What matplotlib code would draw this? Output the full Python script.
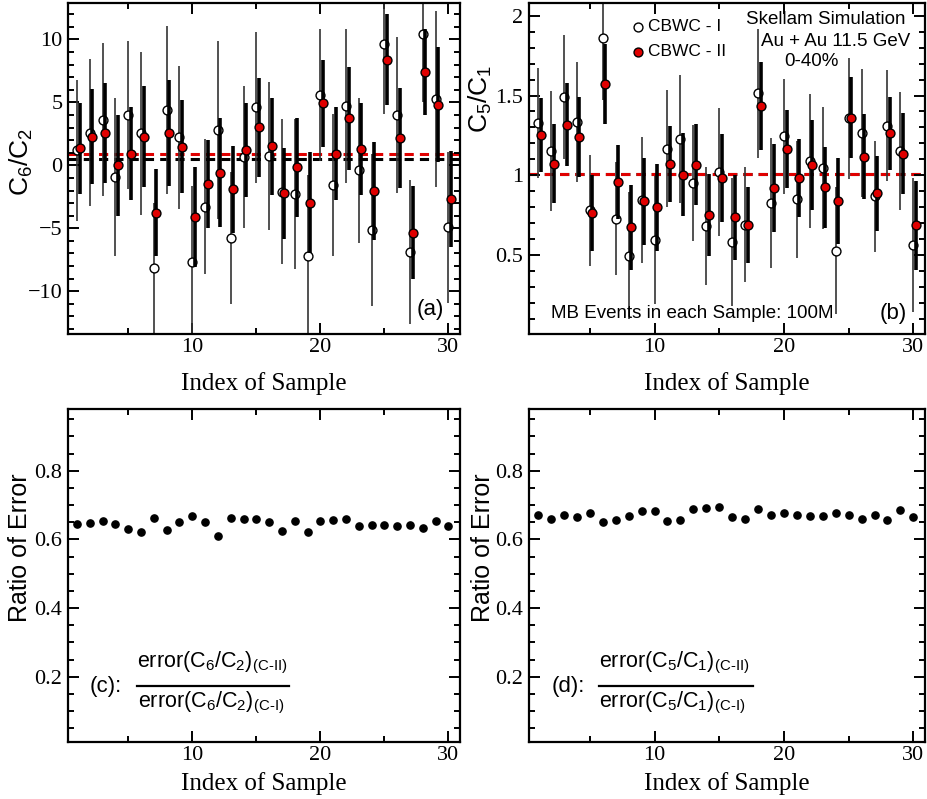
import numpy as np
import matplotlib
matplotlib.use("Agg")
from matplotlib import pyplot as plt
from matplotlib.ticker import MultipleLocator, FuncFormatter

plt.rcParams['font.family'] = 'Liberation Serif'
plt.rcParams['mathtext.fontset'] = 'custom'
plt.rcParams['mathtext.rm'] = 'Liberation Sans'
plt.rcParams['mathtext.it'] = 'Liberation Sans:italic'
plt.rcParams['mathtext.bf'] = 'Liberation Sans:bold'

sample = np.arange(1, 31)

# C6/C2 : CBWC-I value and error, CBWC-II value
c62_cbwc1 = [1.20, 2.60, 3.63, -0.92, 4.02, 2.56, -8.19, 4.40, 2.22, -7.66,
             -3.28, 2.80, -5.80, 0.70, 4.61, 0.76, -2.09, -2.25, -7.21, 5.59,
             -1.55, 4.72, -0.38, -5.14, 9.66, 4.00, -6.87, 10.45, 5.27, -4.90]
c62_err1 = [5.60, 5.85, 6.07, 6.27, 5.87, 6.47, 5.20, 6.70, 5.70, 6.00,
            5.38, 7.07, 5.24, 5.64, 6.00, 5.88, 5.75, 5.97, 6.45, 5.28,
            5.66, 6.15, 5.75, 6.06, 5.58, 6.20, 5.73, 5.40, 7.00, 6.00]
c62_cbwc2 = [1.34, 2.29, 2.56, -0.01, 0.94, 2.29, -3.76, 2.56, 1.47, -4.10,
             -1.45, -0.57, -1.90, 1.24, 3.01, 1.50, -2.22, -0.17, -2.96, 4.93,
             0.94, 3.73, 1.31, -2.03, 8.41, 2.17, -5.35, 7.45, 4.82, -2.69]
# ratio of errors error(C-II)/error(C-I) for C6/C2
c62_ratio = [0.646, 0.648, 0.654, 0.646, 0.630, 0.621, 0.662, 0.628, 0.650, 0.668,
             0.650, 0.610, 0.663, 0.659, 0.661, 0.652, 0.626, 0.654, 0.621, 0.655,
             0.658, 0.661, 0.639, 0.641, 0.641, 0.639, 0.641, 0.632, 0.653, 0.639]

# C5/C1 : CBWC-I value and error, CBWC-II value
c51_cbwc1 = [1.325, 1.150, 1.490, 1.333, 0.780, 1.860, 0.727, 0.497, 0.843, 0.595,
             1.167, 1.228, 0.952, 0.683, 1.020, 0.580, 0.690, 1.513, 0.826, 1.245,
             0.851, 1.088, 1.046, 0.528, 1.356, 1.266, 0.868, 1.312, 1.150, 0.563]
c51_err1 = [0.345, 0.377, 0.390, 0.377, 0.350, 0.385, 0.354, 0.398, 0.395, 0.400,
            0.366, 0.400, 0.366, 0.370, 0.400, 0.400, 0.360, 0.404, 0.410, 0.360,
            0.367, 0.420, 0.380, 0.400, 0.378, 0.400, 0.350, 0.350, 0.370, 0.420]
c51_cbwc2 = [1.255, 1.073, 1.318, 1.239, 0.763, 1.570, 0.956, 0.673, 0.836, 0.800,
             1.073, 1.004, 1.067, 0.752, 0.983, 0.736, 0.686, 1.434, 0.920, 1.167,
             0.983, 1.063, 0.926, 0.840, 1.360, 1.117, 0.887, 1.262, 1.136, 0.686]
c51_ratio = [0.672, 0.660, 0.672, 0.664, 0.676, 0.650, 0.656, 0.668, 0.684, 0.684,
             0.653, 0.656, 0.690, 0.691, 0.694, 0.666, 0.661, 0.689, 0.672, 0.677,
             0.672, 0.669, 0.669, 0.678, 0.672, 0.661, 0.672, 0.657, 0.687, 0.666]

# reference lines (CBWC-I mean, CBWC-II mean)
c62_lines = [0.5, 0.9]
c51_lines = [1.01, 1.01]

W, H = 927, 799
fig = plt.figure(figsize=(W / 100, H / 100), dpi=100)


def px_axes(x0, y0, x1, y1):
    return fig.add_axes([x0 / W, 1 - y1 / H, (x1 - x0) / W, (y1 - y0) / H])


def fmt(v, pos):
    s = '%g' % round(v, 3)
    return s.replace('-', '\u2212')


def style(ax, ymaj, ymin, ylim, xly):
    ax.set_xlim(0.3, 30.9)
    ax.set_ylim(*ylim)
    ax.xaxis.set_major_locator(MultipleLocator(10))
    ax.xaxis.set_minor_locator(MultipleLocator(5))
    ax.yaxis.set_major_locator(MultipleLocator(ymaj))
    ax.yaxis.set_minor_locator(MultipleLocator(ymin))
    ax.yaxis.set_major_formatter(FuncFormatter(fmt))
    ax.tick_params(which='both', direction='in', top=True, right=True,
                   width=1.4, labelsize=16)
    ax.tick_params(which='major', length=8)
    ax.tick_params(which='minor', length=4.5)
    ax.tick_params(axis='x', pad=3)
    ax.tick_params(axis='y', pad=4)
    for s in ax.spines.values():
        s.set_linewidth(1.6)
    ax.set_xlabel('Index of Sample', fontsize=18)
    ax.xaxis.set_label_coords(0.5, xly)


def top_panel(ax, v1, e1, v2, ratio, lines):
    e2 = np.array(e1) * np.array(ratio)
    ax.axhline(lines[0], color='black', ls=(0, (3, 2)), lw=2.2, zorder=1)
    ax.axhline(lines[1], color='#e00000', ls=(0, (3, 2)), lw=2.2, zorder=1)
    ax.errorbar(sample, v1, yerr=e1, fmt='none', ecolor='#333333',
                elinewidth=1.2, capsize=0, zorder=2)
    ax.plot(sample, v1, 'o', ms=6.4, mfc='white', mec='black', mew=1.0, zorder=3)
    ax.errorbar(sample + 0.2, v2, yerr=e2, fmt='none', ecolor='black',
                elinewidth=2.6, capsize=0, zorder=4)
    ax.plot(sample + 0.2, v2, 'o', ms=6.4, mfc='#e00000', mec='black', mew=1.0, zorder=5)


def bottom_panel(ax, ratio, lab, num, den, ylx):
    ax.plot(sample, ratio, 'o', ms=5.2, color='black')
    ax.text(0.056, 0.166, lab, transform=ax.transAxes, family='Liberation Sans',
            fontsize=16, va='center', ha='left')
    ax.text(0.176, 0.236, num, transform=ax.transAxes, family='Liberation Sans',
            fontsize=15.5, va='center', ha='left')
    ax.text(0.178, 0.116, den, transform=ax.transAxes, family='Liberation Sans',
            fontsize=15.5, va='center', ha='left')
    ax.plot([0.176, 0.565], [0.168, 0.168], transform=ax.transAxes,
            color='black', lw=1.6, clip_on=False)
    ax.set_ylabel('Ratio of Error', family='Liberation Sans', fontsize=18)
    ax.yaxis.set_label_coords(ylx, 0.585)


# (a)
ax = px_axes(68, 3, 460, 334)
top_panel(ax, c62_cbwc1, c62_err1, c62_cbwc2, c62_ratio, c62_lines)
style(ax, 5, 1, (-13.4, 12.9), -0.115)
ax.set_ylabel('C$_6$/C$_2$', family='Liberation Sans', fontsize=19)
ax.yaxis.set_label_coords(-0.085, 0.52)
ax.text(0.958, 0.075, '(a)', transform=ax.transAxes, family='Liberation Sans',
        fontsize=16, ha='right', va='center')

# (b)
ax = px_axes(529, 3, 925, 334)
top_panel(ax, c51_cbwc1, c51_err1, c51_cbwc2, c51_ratio, c51_lines)
style(ax, 0.5, 0.1, (0.005, 2.08), -0.115)
ax.set_ylabel('C$_5$/C$_1$', family='Liberation Sans', fontsize=19)
ax.yaxis.set_label_coords(-0.088, 0.71)
ax.text(0.954, 0.0625, '(b)', transform=ax.transAxes, family='Liberation Sans',
        fontsize=16, ha='right', va='center')
ax.text(0.055, 0.0625, 'MB Events in each Sample: 100M', transform=ax.transAxes,
        family='Liberation Sans', fontsize=13.5, ha='left', va='center')
ax.plot([0.2745], [0.928], 'o', ms=6.4, mfc='white', mec='black', mew=1.0,
        transform=ax.transAxes)
ax.plot([0.2745], [0.853], 'o', ms=6.4, mfc='#e00000', mec='black', mew=1.0,
        transform=ax.transAxes)
ax.text(0.301, 0.928, 'CBWC - I', transform=ax.transAxes, family='Liberation Sans',
        fontsize=12.5, ha='left', va='center')
ax.text(0.301, 0.853, 'CBWC - II', transform=ax.transAxes, family='Liberation Sans',
        fontsize=12.5, ha='left', va='center')
ax.text(0.749, 0.949, 'Skellam Simulation', transform=ax.transAxes,
        family='Liberation Sans', fontsize=13.5, ha='center', va='center')
ax.text(0.774, 0.883, 'Au + Au 11.5 GeV', transform=ax.transAxes,
        family='Liberation Sans', fontsize=13.5, ha='center', va='center')
ax.text(0.712, 0.823, '0-40%', transform=ax.transAxes,
        family='Liberation Sans', fontsize=13.5, ha='center', va='center')

# (c)
ax = px_axes(68, 409, 460, 742)
bottom_panel(ax, c62_ratio, '(c):',
             r'error(C$_6$/C$_2$)$_{\rm (C\text{-}II)}$',
             r'error(C$_6$/C$_2$)$_{\rm (C\text{-}I)}$', -0.092)
style(ax, 0.2, 0.05, (0.01, 0.98), -0.09)

# (d)
ax = px_axes(529, 409, 925, 742)
bottom_panel(ax, c51_ratio, '(d):',
             r'error(C$_5$/C$_1$)$_{\rm (C\text{-}II)}$',
             r'error(C$_5$/C$_1$)$_{\rm (C\text{-}I)}$', -0.086)
style(ax, 0.2, 0.05, (0.01, 0.98), -0.09)

fig.savefig('out.png', dpi=100)
